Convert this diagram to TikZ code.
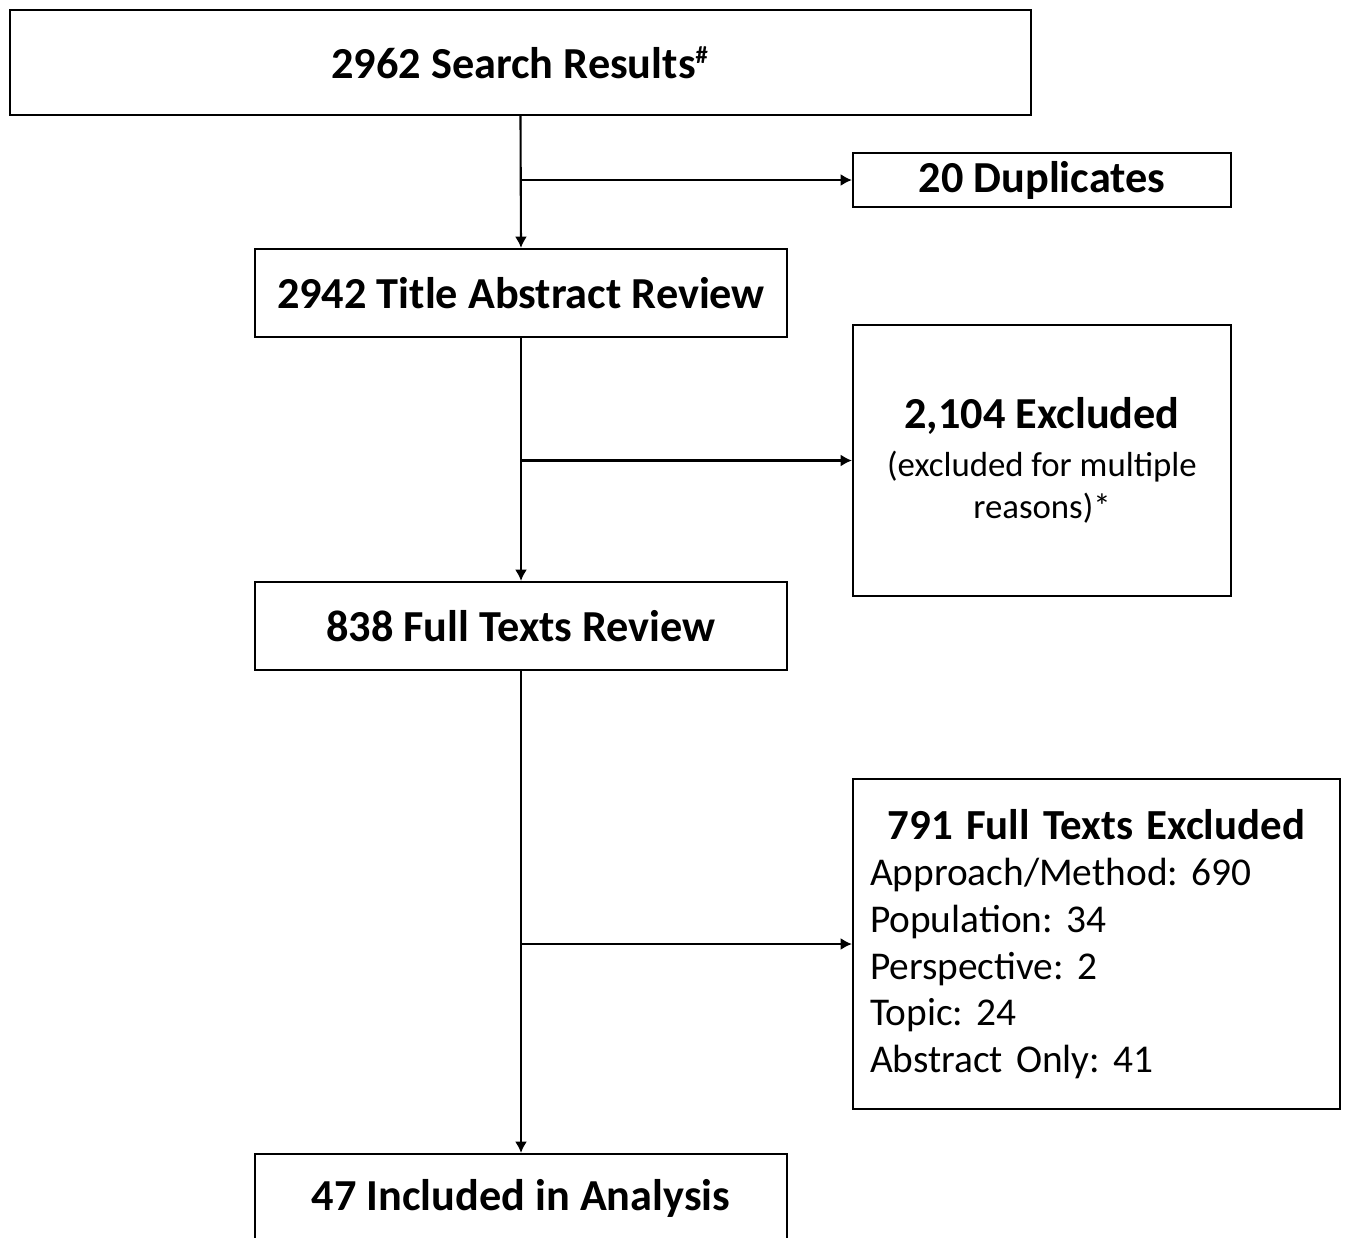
\documentclass[tikz,border=0pt]{standalone}
\usepackage{fontspec}
\setmainfont{Carlito}
\usetikzlibrary{arrows.meta}
\frenchspacing
\newcommand{\smallnote}{\fontsize{9.9}{12}\selectfont\mdseries}

\begin{document}
\begin{tikzpicture}[line width=0.6pt, >={Latex[length=3.2pt,width=3.4pt]},
      box/.style={draw, inner sep=0pt, align=center, font=\fontsize{12.6}{15}\selectfont\bfseries}]
    \useasboundingbox (0,0) rectangle (13.47,-12.38);
    \node[box, minimum width=10.21cm, minimum height=1.05cm] (search) at (5.205,-0.625) {2962 Search Results\textsuperscript{\scriptsize\#}};
    \node[box, minimum width=3.78cm, minimum height=0.54cm] (dup) at (10.42,-1.80) {20 Duplicates};
    \node[box, minimum width=5.32cm, minimum height=0.88cm] (title) at (5.21,-2.93) {2942 Title Abstract Review};
    \node[box, minimum width=3.78cm, minimum height=2.71cm] (excl) at (10.42,-4.605)
      {2,104 Excluded\\[-1.5pt] {\smallnote (excluded for multiple}\\[-3pt] {\smallnote reasons)*}};
    \node[box, minimum width=5.32cm, minimum height=0.88cm] (full) at (5.21,-6.26) {838 Full Texts Review};
    \node[box, minimum width=4.87cm, minimum height=3.30cm, text width=4.53cm, align=left,
      font=\fontsize{11.2}{13.3}\selectfont] (fullexcl) at (10.965,-9.44)
      {\makebox[\linewidth]{\fontsize{12.2}{13.3}\selectfont\bfseries 791 Full Texts Excluded}\\
       Approach/Method: 690\\
       Population: 34\\
       Perspective: 2\\
       Topic: 24\\
       Abstract Only: 41};
    \node[box, minimum width=5.32cm, minimum height=0.88cm] (incl) at (5.21,-11.98) {47 Included in Analysis};

    \draw[->] (search.south) -- (title.north);
    \draw[->] (search.south |- dup.west) -- (dup.west);
    \draw[->] (title.south) -- (full.north);
    \draw[->] (title.south |- excl.west) -- (excl.west);
    \draw[->] (full.south) -- (incl.north);
    \draw[->] (full.south |- fullexcl.west) -- (fullexcl.west);
  \end{tikzpicture}
\end{document}
